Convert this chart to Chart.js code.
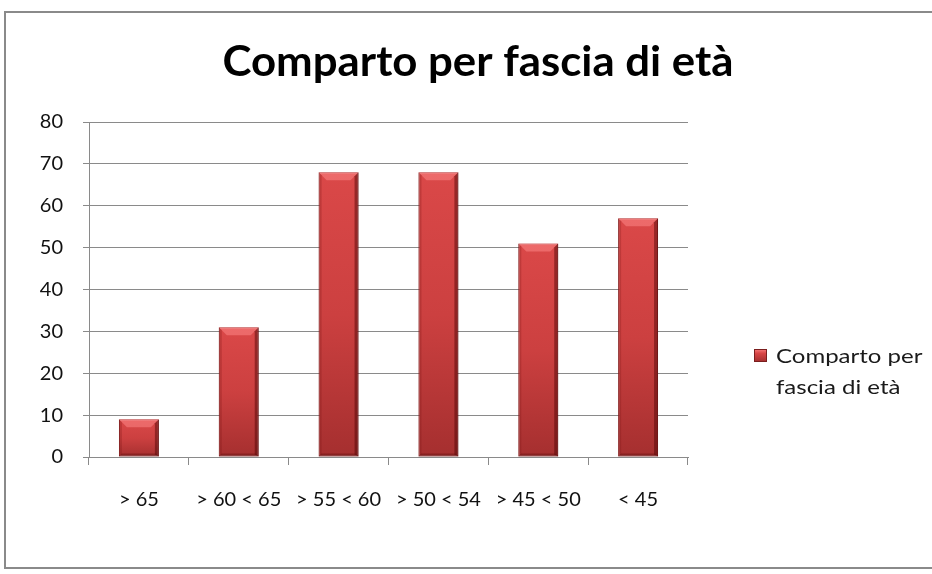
<!DOCTYPE html>
<html>
<head>
<meta charset="utf-8">
<script src="https://cdn.jsdelivr.net/npm/chart.js@4/dist/chart.umd.min.js"></script>
<style>
  html, body { margin: 0; padding: 0; background: #fff; }
  #wrap { position: relative; width: 932px; height: 574px; overflow: hidden; background: #fff; }
  #frame { position: absolute; left: 4px; top: 11px; width: 990px; height: 558px; border: 2px solid #8a8a8a; box-sizing: border-box; }
  canvas { position: absolute; left: 0; top: 0; }
  #legend { position: absolute; left: 754px; top: 340px; font-family: Lato, sans-serif; font-size: 20px; color: #1a1a1a; }
  #legend .mk { position: absolute; left: 0; top: 9px; width: 13px; height: 13px;
    background: linear-gradient(180deg, #f07070 0%, #d84545 30%, #a83030 100%); border: 1px solid #7a1e1e; box-sizing: border-box; }
  #legend .tx { position: absolute; left: 22px; top: 0; line-height: 31px; white-space: nowrap; transform: scaleX(1.2); transform-origin: 0 0; }
</style>
</head>
<body>
<div id="wrap">
  <div id="frame"></div>
  <canvas id="c" width="932" height="574"></canvas>
  <div id="legend"><div class="mk"></div><div class="tx" id="legtx"></div></div>
</div>
<script>
const titleText = 'Comparto per fascia di età';
const seriesLabel = 'Comparto per fascia di età';
const legendLines = ['Comparto per', 'fascia di età'];
const categories = ['> 65', '> 60 < 65', '> 55 < 60', '> 50 < 54', '> 45 < 50', '< 45'];
const values = [9, 31, 68, 68, 51, 57];
const yMin = 0;
const yMax = 80;
const yStep = 10;

document.getElementById('legtx').innerHTML = legendLines.join('<br>');

const gridColor = '#8a8a8a';

const titlePlugin = {
  id: 'customTitle',
  afterDraw(chart) {
    const ctx = chart.ctx;
    ctx.save();
    const size = 42;
    ctx.font = 'bold ' + size + 'px Lato, sans-serif';
    const w = ctx.measureText(titleText).width;
    const target = 511;
    ctx.textAlign = 'center';
    ctx.textBaseline = 'alphabetic';
    ctx.fillStyle = '#000';
    ctx.translate(478, 76);
    ctx.scale(target / w, 1);
    ctx.fillText(titleText, 0, 0);
    ctx.restore();
  }
};

const bevelPlugin = {
  id: 'bevel',
  afterDatasetsDraw(chart) {
    const ctx = chart.ctx;
    const meta = chart.getDatasetMeta(0);
    ctx.save();
    meta.data.forEach(el => {
      const l = el.x - el.width / 2, r = el.x + el.width / 2, t = el.y, b = el.base;
      const bv = 8;
      ctx.beginPath();
      ctx.moveTo(l, t); ctx.lineTo(r, t); ctx.lineTo(r - bv, t + bv); ctx.lineTo(l + bv, t + bv); ctx.closePath();
      ctx.fillStyle = 'rgba(255,140,140,0.5)';
      ctx.fill();
      ctx.beginPath();
      ctx.moveTo(l, t); ctx.lineTo(l + 3, t + 3); ctx.lineTo(l + 3, b - 2); ctx.lineTo(l, b); ctx.closePath();
      ctx.fillStyle = 'rgba(120,20,20,0.25)';
      ctx.fill();
      ctx.beginPath();
      ctx.moveTo(r, t); ctx.lineTo(r - 4, t + 4); ctx.lineTo(r - 4, b - 2); ctx.lineTo(r, b); ctx.closePath();
      ctx.fillStyle = 'rgba(70,0,0,0.45)';
      ctx.fill();
      ctx.beginPath();
      ctx.moveTo(l, b); ctx.lineTo(r, b); ctx.lineTo(r - 3, b - 3); ctx.lineTo(l + 3, b - 3); ctx.closePath();
      ctx.fillStyle = 'rgba(80,10,10,0.35)';
      ctx.fill();
    });
    ctx.restore();
  }
};

new Chart(document.getElementById('c'), {
  type: 'bar',
  data: {
    labels: categories,
    datasets: [{
      label: seriesLabel,
      data: values,
      backgroundColor: (context) => {
        const chart = context.chart;
        const ys = chart.scales && chart.scales.y;
        if (!ys || ys.top === undefined || context.type !== 'data') return '#cf4040';
        const top = ys.getPixelForValue(context.raw);
        const base = ys.getPixelForValue(0);
        if (!isFinite(top) || !isFinite(base) || top === base) return '#cf4040';
        const g = chart.ctx.createLinearGradient(0, top, 0, base);
        g.addColorStop(0, '#da4848');
        g.addColorStop(0.5, '#cc4040');
        g.addColorStop(1, '#a52f2f');
        return g;
      },
      borderColor: '#8a2222',
      borderWidth: 1,
      borderSkipped: false,
      categoryPercentage: 1.0,
      barPercentage: 0.4
    }]
  },
  options: {
    responsive: false,
    devicePixelRatio: 1,
    animation: false,
    layout: { padding: { left: 0, top: 122, right: 244, bottom: 0 } },
    plugins: {
      legend: { display: false },
      title: { display: false },
      tooltip: { enabled: false }
    },
    scales: {
      x: {
        grid: { display: true, drawOnChartArea: false, drawTicks: true, tickLength: 8, tickColor: gridColor, color: gridColor, offset: true, lineWidth: 1 },
        border: { display: true, color: gridColor, width: 1 },
        ticks: { color: '#111', font: { family: 'Lato, sans-serif', size: 20 }, padding: 23, maxRotation: 0, autoSkip: false },
        afterFit(scale) { scale.height = 574 - 457; }
      },
      y: {
        min: yMin, max: yMax,
        grid: { color: gridColor, lineWidth: 1, tickLength: 6, tickColor: gridColor },
        border: { display: true, color: gridColor, width: 1 },
        ticks: { stepSize: yStep, color: '#111', font: { family: 'Lato, sans-serif', size: 20 }, padding: 20 },
        afterFit(scale) { scale.width = 89; }
      }
    }
  },
  plugins: [bevelPlugin, titlePlugin]
});
</script>
</body>
</html>
